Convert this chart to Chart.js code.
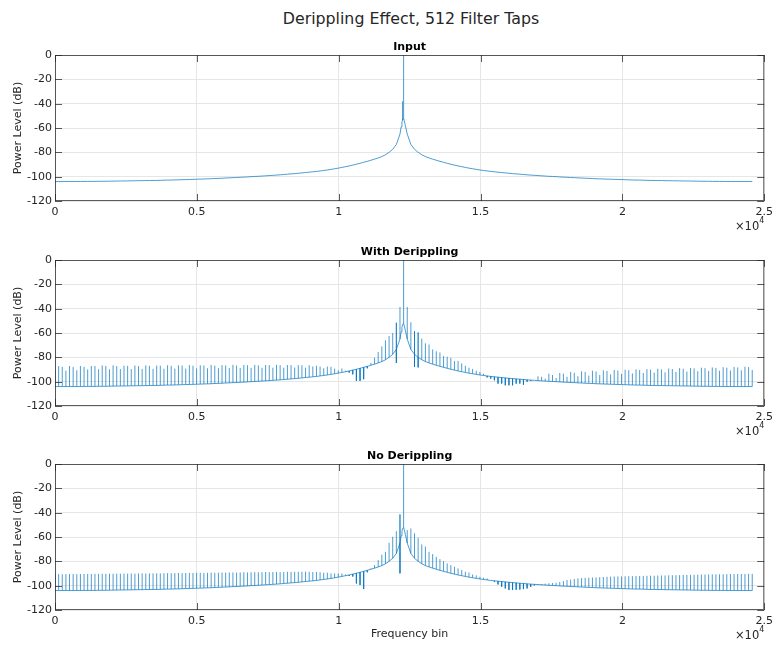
<!DOCTYPE html>
<html>
<head>
<meta charset="utf-8">
<script src="https://cdn.jsdelivr.net/npm/chart.js@4.4.1/dist/chart.umd.min.js"></script>
<style>
  body { margin: 0; background: #fff; }
  #fig { position: relative; width: 778px; height: 649px; overflow: hidden; background: #fff; }
  #fig canvas { position: absolute; left: 0; }
  #suptitle {
    position: absolute; left: 0; top: 9px; width: 822px; text-align: center;
    font: 15.8px "DejaVu Sans", sans-serif; color: #262626; line-height: 20px;
  }
</style>
</head>
<body>
<div id="fig">
  <div id="suptitle">Derippling Effect, 512 Filter Taps</div>
  <canvas id="p0" width="778" height="216" style="top:25px"></canvas>
  <canvas id="p1" width="778" height="216" style="top:230px"></canvas>
  <canvas id="p2" width="778" height="216" style="top:434px"></canvas>
</div>
<script>
// spectrum sampled every 128 bins (k = 0..192)
const binStep = 128;
const xTicks = [0, 5000, 10000, 15000, 20000, 25000];
const yTicks = [-120, -100, -80, -60, -40, -20, 0];
const panelTitles = ['Input', 'With Derippling', 'No Derippling'];

// smooth leakage floor of the input tone (dB)
const curveLevel = [
  -104.0, -104.0, -104.0, -104.0, -104.0, -104.0, -104.0, -104.0, -103.9, -103.9,
  -103.9, -103.9, -103.8, -103.8, -103.8, -103.7, -103.7, -103.6, -103.6, -103.5,
  -103.5, -103.4, -103.4, -103.3, -103.3, -103.2, -103.2, -103.1, -103.1, -103.0,
  -102.9, -102.8, -102.8, -102.7, -102.6, -102.5, -102.4, -102.3, -102.2, -102.1,
  -102.0, -101.9, -101.8, -101.7, -101.5, -101.4, -101.3, -101.1, -101.0, -100.8,
  -100.7, -100.5, -100.4, -100.2, -100.0, -99.8, -99.7, -99.5, -99.3, -99.1,
  -98.9, -98.7, -98.5, -98.2, -98.0, -97.7, -97.5, -97.2, -96.9, -96.6,
  -96.3, -96.0, -95.7, -95.3, -94.9, -94.5, -94.0, -93.5, -93.0, -92.4,
  -91.8, -91.2, -90.5, -89.8, -89.0, -88.2, -87.4, -86.5, -85.6, -84.6,
  -83.5, -82.0, -80.0, -77.5, -73.5, -65.0,
  -52.0,
  -65.0, -73.5, -77.5, -80.0, -82.0, -83.5,
  -84.6, -85.6, -86.5, -87.4, -88.2, -89.0, -89.8, -90.5, -91.2, -91.8,
  -92.4, -93.0, -93.5, -94.0, -94.5, -94.9, -95.3, -95.7, -96.0, -96.3,
  -96.6, -96.9, -97.2, -97.5, -97.7, -98.0, -98.2, -98.5, -98.7, -98.9,
  -99.1, -99.3, -99.5, -99.7, -99.8, -100.0, -100.2, -100.4, -100.5, -100.7,
  -100.8, -101.0, -101.1, -101.3, -101.4, -101.5, -101.7, -101.8, -101.9, -102.0,
  -102.1, -102.2, -102.3, -102.4, -102.5, -102.6, -102.7, -102.8, -102.8, -102.9,
  -103.0, -103.1, -103.1, -103.2, -103.2, -103.3, -103.3, -103.4, -103.4, -103.5,
  -103.5, -103.6, -103.6, -103.7, -103.7, -103.8, -103.8, -103.8, -103.9, -103.9,
  -103.9, -103.9, -104.0, -104.0, -104.0, -104.0, -104.0, -104.0, -104.0, -104.0
];

// extra detail of the floor right around the tone
const peakBins = [12200, 12230, 12250, 12265, 12310, 12350];
const peakLevel = [-59, -55, -53.5, -52.5, -54, -58];

// input: the tone itself and its neighbour
const inputSpikeBins = [12250, 12288];
const inputSpikeLevel = [-38, 0];

// output with derippling, value at every 128th bin
const deripLevel = [
  -90.5, -87.2, -87.9, -91.0, -87.1, -87.9, -90.6, -87.1, -87.8, -89.9,
  -87.1, -87.1, -89.8, -86.6, -87.1, -89.8, -86.6, -87.2, -89.6, -86.8,
  -87.0, -89.7, -86.7, -87.2, -89.5, -86.6, -87.0, -89.6, -86.8, -86.9,
  -89.4, -86.5, -87.0, -89.3, -86.6, -86.8, -89.2, -86.4, -86.9, -89.1,
  -86.5, -86.7, -89.0, -86.3, -86.8, -88.9, -86.4, -86.6, -88.8, -86.2,
  -86.7, -88.7, -86.3, -86.5, -88.6, -86.2, -86.6, -88.6, -86.3, -86.4,
  -88.5, -86.2, -86.5, -88.5, -86.3, -86.4, -88.4, -86.4, -86.5, -88.5,
  -86.5, -87.5, -87.0, -87.6, -89.0, -87.6, -87.8, -89.3, -90.7, -89.2,
  -91.0, -92.5, -94.0, -99.4, -99.4, -98.0, -89.0, -84.5, -80.3, -75.6,
  -71.0, -66.0, -62.5, -60.0, -51.5, -38.6, 0, -38.6, -51.2, -58.5,
  -59.5, -64.6, -68.5, -69.5, -73.5, -75.0, -76.0, -79.0, -79.5, -80.5,
  -83.0, -83.0, -85.0, -87.0, -88.5, -89.5, -91.0, -92.0, -93.5, -96.5,
  -97.5, -98.9, -101.6, -101.6, -103.0, -103.0, -103.0, -101.6, -101.6, -102.5,
  -100.0, -99.5, -98.9, -95.6, -96.0, -97.5, -93.4, -94.5, -97.0, -92.8,
  -93.4, -96.0, -92.0, -92.6, -95.5, -91.5, -92.0, -95.0, -91.0, -91.6,
  -94.5, -90.7, -91.2, -94.0, -90.4, -90.9, -93.6, -90.2, -90.6, -93.2,
  -89.9, -90.4, -92.9, -89.7, -90.1, -92.6, -89.4, -89.9, -92.3, -89.2,
  -89.6, -92.0, -88.9, -89.4, -91.7, -88.7, -89.1, -91.4, -88.5, -88.9,
  -91.2, -88.3, -88.7, -91.0, -88.1, -88.5, -90.8, -87.9, -88.3, -90.6,
  -87.7, -88.0, -90.4
];
const deripDipK = [94, 99, 100];
const deripDipLevel = [-84.6, -88.0, -88.3];

// output without derippling
const noDeripLevel = [
  -90.6, -90.5, -90.6, -90.5, -90.5, -90.4, -90.5, -90.4, -90.4, -90.3,
  -90.4, -90.3, -90.3, -90.2, -90.3, -90.2, -90.2, -90.1, -90.2, -90.1,
  -90.1, -90.0, -90.1, -90.0, -89.9, -90.0, -89.9, -89.9, -89.8, -89.9,
  -89.8, -89.7, -89.8, -89.7, -89.6, -89.7, -89.6, -89.5, -89.6, -89.5,
  -89.4, -89.5, -89.4, -89.3, -89.4, -89.3, -89.2, -89.3, -89.2, -89.1,
  -89.2, -89.1, -89.0, -89.1, -89.0, -88.9, -89.0, -88.9, -88.8, -88.9,
  -88.8, -88.7, -88.8, -88.7, -88.6, -88.7, -88.6, -88.5, -88.6, -88.5,
  -88.6, -88.8, -88.7, -88.9, -89.3, -89.3, -89.9, -89.9, -90.0, -89.9,
  -90.8, -92.0, -92.5, -98.2, -99.5, -102.8, -89.0, -85.8, -83.1, -79.0,
  -74.5, -72.2, -64.8, -59.8, -55.2, -41.4, 0, -54.3, -53.0, -57.0,
  -60.6, -66.1, -67.9, -72.2, -74.1, -76.3, -78.2, -79.8, -81.7, -83.1,
  -84.4, -85.8, -87.2, -88.6, -89.2, -90.8, -91.5, -92.7, -93.5, -94.0,
  -95.5, -96.8, -99.0, -100.9, -102.3, -103.6, -103.6, -103.4, -103.2, -102.8,
  -102.3, -101.0, -99.8, -99.2, -98.6, -98.3, -98.0, -97.8, -97.6, -97.0,
  -96.2, -95.4, -95.0, -94.5, -94.0, -93.8, -93.6, -93.5, -93.3, -93.2,
  -93.0, -92.9, -92.7, -92.6, -92.5, -92.4, -92.4, -92.3, -92.2, -92.2,
  -92.1, -92.0, -92.0, -91.9, -91.8, -91.8, -91.7, -91.6, -91.6, -91.5,
  -91.4, -91.4, -91.3, -91.2, -91.2, -91.1, -91.0, -91.0, -90.9, -90.8,
  -90.8, -90.7, -90.7, -90.6, -90.6, -90.5, -90.5, -90.5, -90.4, -90.4,
  -90.4, -90.3, -90.3
];
const noDeripDipK = [95];
const noDeripDipLevel = [-89.9];

const lineColor = '#0072BD';
const axisColor = '#262626';
const gridColor = '#e6e6e6';
const fontFamily = '"DejaVu Sans", sans-serif';

function curvePoints() {
  const pts = curveLevel.map((y, k) => ({ x: k * binStep, y }));
  peakBins.forEach((x, i) => pts.push({ x, y: peakLevel[i] }));
  return pts.sort((a, b) => a.x - b.x);
}

// vertical strokes from the floor to each value, broken by null gaps
function spikePoints(bins, levels, dipBins, dipLevels) {
  const floor = new Map(curvePoints().map(p => [p.x, p.y]));
  const pts = [];
  bins.forEach((x, i) => {
    pts.push({ x, y: floor.get(x) }, { x, y: levels[i] });
    const d = dipBins.indexOf(x);
    if (d >= 0) pts.push({ x, y: dipLevels[d] });
    pts.push({ x, y: null });
  });
  return pts;
}

const gridBins = curveLevel.map((_, k) => k * binStep);

const panelData = [
  spikePoints(inputSpikeBins, inputSpikeLevel, [], []),
  spikePoints(gridBins, deripLevel, deripDipK.map(k => k * binStep), deripDipLevel),
  spikePoints(gridBins, noDeripLevel, noDeripDipK.map(k => k * binStep), noDeripDipLevel)
];

// box, inward ticks, panel title and axis annotations
const framePlugin = {
  id: 'frame',
  afterDraw(chart, args, opts) {
    const { ctx, chartArea: a, scales: { x, y } } = chart;
    ctx.save();
    ctx.strokeStyle = axisColor;
    ctx.globalAlpha = 0.75;
    ctx.lineWidth = 1;
    ctx.strokeRect(a.left + 0.5, a.top + 0.5, a.right - a.left - 1, a.bottom - a.top - 1);
    ctx.beginPath();
    xTicks.forEach(v => {
      const px = Math.round(x.getPixelForValue(v)) + 0.5;
      ctx.moveTo(px, a.bottom); ctx.lineTo(px, a.bottom - 7);
      ctx.moveTo(px, a.top); ctx.lineTo(px, a.top + 7);
    });
    yTicks.forEach(v => {
      const py = Math.round(y.getPixelForValue(v)) + 0.5;
      ctx.moveTo(a.left, py); ctx.lineTo(a.left + 7, py);
      ctx.moveTo(a.right, py); ctx.lineTo(a.right - 7, py);
    });
    ctx.stroke();
    ctx.globalAlpha = 1;

    const cx = (a.left + a.right) / 2;
    ctx.fillStyle = '#000';
    ctx.textAlign = 'center';
    ctx.textBaseline = 'middle';
    ctx.font = 'bold 11px ' + fontFamily;
    ctx.fillText(opts.title, cx, a.top - 8);

    ctx.fillStyle = axisColor;
    ctx.font = '11px ' + fontFamily;
    ctx.save();
    ctx.translate(18, (a.top + a.bottom) / 2);
    ctx.rotate(-Math.PI / 2);
    ctx.fillText('Power Level (dB)', 0, 0);
    ctx.restore();

    if (opts.xTitle) ctx.fillText(opts.xTitle, cx, a.bottom + 24);

    ctx.textAlign = 'right';
    ctx.font = '8px ' + fontFamily;
    ctx.fillText('4', a.right, a.bottom + 20);
    ctx.font = '11.5px ' + fontFamily;
    ctx.fillText('\u00d710', a.right - 5, a.bottom + 26);
    ctx.restore();
  }
};

panelData.forEach((spikes, i) => {
  const datasets = [{
    data: curvePoints(),
    borderColor: lineColor,
    borderWidth: 0.7,
    pointRadius: 0
  }, {
    data: spikes,
    borderColor: lineColor,
    borderWidth: 0.7,
    pointRadius: 0,
    spanGaps: false
  }];

  new Chart(document.getElementById('p' + i), {
    type: 'line',
    data: { datasets },
    options: {
      responsive: false,
      animation: false,
      events: [],
      parsing: false,
      layout: { padding: { top: 30, right: 10, left: 0, bottom: 0 } },
      plugins: {
        legend: { display: false },
        tooltip: { enabled: false },
        frame: { title: panelTitles[i], xTitle: i === 2 ? 'Frequency bin' : '' }
      },
      scales: {
        x: {
          type: 'linear',
          min: 0,
          max: 25000,
          afterBuildTicks: s => { s.ticks = xTicks.map(v => ({ value: v })); },
          afterFit: s => { s.height = 40; },
          grid: { color: gridColor, drawTicks: false },
          border: { display: false },
          ticks: {
            padding: 5,
            maxRotation: 0,
            autoSkip: false,
            color: axisColor,
            font: { family: fontFamily, size: 11 },
            callback: v => String(v / 10000)
          }
        },
        y: {
          type: 'linear',
          min: -120,
          max: 0,
          afterBuildTicks: s => { s.ticks = yTicks.map(v => ({ value: v })); },
          afterFit: s => { s.width = 55; },
          grid: { color: gridColor, drawTicks: false },
          border: { display: false },
          ticks: {
            padding: 3,
            autoSkip: false,
            color: axisColor,
            font: { family: fontFamily, size: 11 }
          }
        }
      }
    },
    plugins: [framePlugin]
  });
});
</script>
</body>
</html>
